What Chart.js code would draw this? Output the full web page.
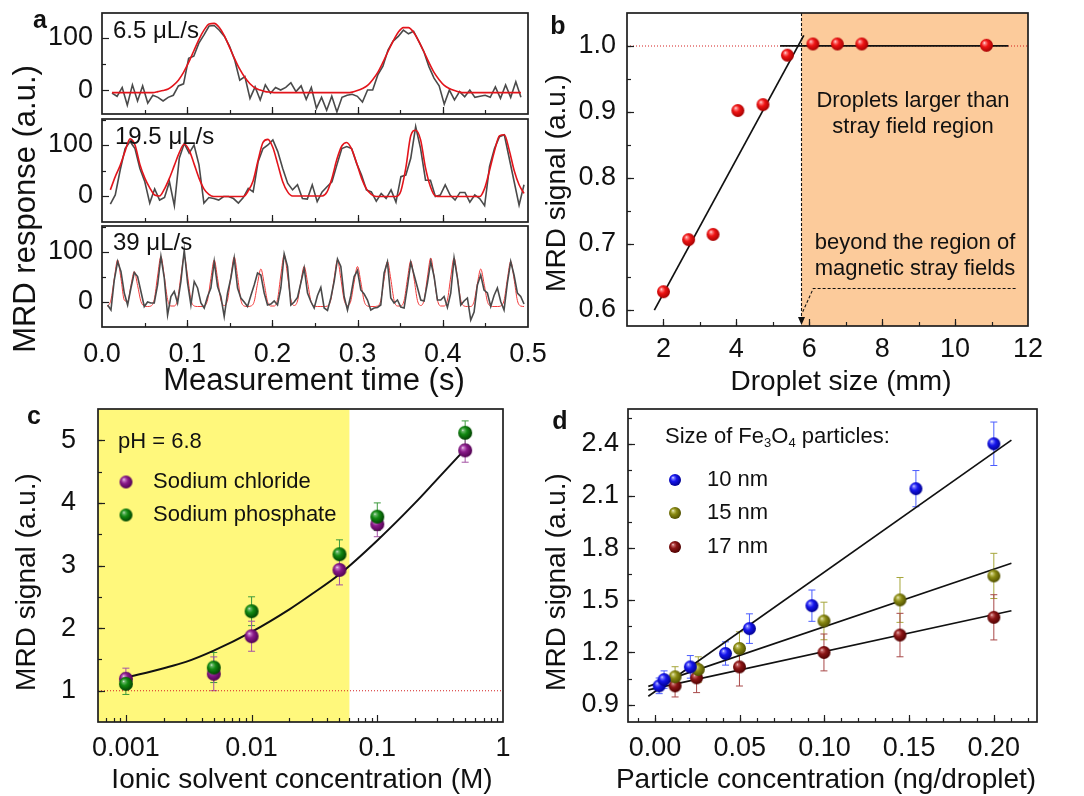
<!DOCTYPE html>
<html>
<head>
<meta charset="utf-8">
<title>MRD signal figure</title>
<script src="https://cdn.jsdelivr.net/npm/chart.js@4.4.1/dist/chart.umd.min.js"></script>
<style>
  html, body { margin: 0; padding: 0; background: #fff; }
  #page { position: relative; width: 1084px; height: 796px; overflow: hidden; }
  #page canvas { position: absolute; }
  #overlay { left: 0; top: 0; z-index: 5; pointer-events: none; }
</style>
</head>
<body>
<div id="page"><canvas id="overlay" width="1084" height="796"></canvas></div>
<script>
const FONT = "'Liberation Sans', Arial, Helvetica, sans-serif";
Chart.defaults.font.family = FONT;
Chart.defaults.color = '#111';

// ---------- panel a: MRD response traces (sampled at a fixed interval) ----------
const timeTicks = [0, 0.1, 0.2, 0.3, 0.4, 0.5];
const responseTicks = [0, 100];

// 6.5 uL/s
const slowT0 = 0.0117, slowDt = 0.006;
const slowRaw = [-6, -12, 5, -29, 10, -21, 8, -25, -10, -14,
  -21, -14, -10, 8, 12, 61, 65, 90, 106, 123,
  124, 115, 103, 84, 58, 19, 26, -16, 6, -19,
  10, -6, 5, 0, 5, 14, -3, 8, -18, 5,
  -35, -14, -39, -12, -42, -14, -10, -8, -12, -23,
  0, 0, 29, 46, 77, 94, 103, 115, 108, 113,
  94, 74, 45, 23, 8, -27, 0, -19, -3, -13,
  0, -14, -12, -10, -14, 6, -16, 10, -14, 16,
  -14];
const slowFit = [-5, -5, -5, -5, -5, -5, -5, -5, -5, -3,
  -1, 2, 9, 19, 34, 53, 75, 97, 115, 127,
  128, 120, 104, 82, 60, 40, 24, 12, 4, 0,
  -3, -4, -5, -5, -5, -5, -5, -5, -5, -5,
  -5, -5, -5, -5, -5, -5, -5, -4, -1, 3,
  9, 20, 34, 53, 74, 94, 111, 120, 120, 111,
  94, 74, 53, 34, 20, 9, 3, -1, -4, -5,
  -5, -5, -5, -5, -5, -5, -5, -5, -5, -5,
  -5];

// 19.5 uL/s
const midT0 = 0.0098, midDt = 0.00578;
const midRaw = [-16, 2, 51, 93, 107, 93, 54, 28, -14, 14,
  -8, -3, 28, -19, 74, 103, 84, 100, 61, -14,
  -3, -5, -8, -1, -1, -5, -14, -3, 15, 8,
  67, 93, 100, 110, 87, 54, 25, 12, 22, -5,
  -6, 22, -11, 8, 18, 28, 61, 93, 97, 93,
  64, 41, 12, 8, -10, 5, -5, 12, -12, 38,
  41, 74, 136, 93, 31, 31, -1, 2, 22, 2,
  -8, 7, 7, -12, 2, -5, -19, 58, 93, 116,
  120, 74, 28, -18, 22];
const midFit = [12, 38, 60, 88, 112, 100, 62, 35, 16, 2,
  0, 14, 35, 60, 85, 102, 90, 63, 35, 14,
  3, -1, -1, -1, -1, -1, -1, -1, 10, 30,
  70, 105, 111, 95, 62, 28, 8, 0, 0, 0,
  0, 0, 0, 0, 8, 35, 72, 98, 105, 92,
  65, 35, 14, 3, -1, -1, -1, -1, -1, 10,
  55, 118, 129, 110, 55, 18, 0, -1, -1, -1,
  -1, -1, -1, -1, -1, -1, 15, 50, 88, 118,
  120, 90, 50, 22, 5];

// 39 uL/s
const fastT0 = 0.0066, fastDt = 0.00391;
const fastRaw = [-7, -17, 43, 80, 60, 17, -7, 27, 58, 50,
  20, -10, -1, -3, -3, 33, 90, 47, -27, 10,
  20, -3, 40, 103, 37, -7, 40, 27, -3, -13,
  10, 27, 80, 30, 10, -30, 17, 47, 87, 27,
  7, -1, -10, 12, 33, 57, 53, 17, -7, -5,
  1, -7, 27, 95, 70, -7, -1, 8, 37, 67,
  17, 0, -13, 12, 28, -13, -18, 7, 40, 85,
  70, 10, -17, 12, 50, 62, 23, 15, 3, -17,
  -13, -12, -7, 57, 79, 7, -3, 3, -11, -13,
  30, 78, 53, 28, 3, 1, 37, 80, 50, 3,
  3, 10, -12, 17, 87, 47, -7, 1, 7, -37,
  -21, 33, 53, 23, 17, -10, 12, 27, 0, -17,
  37, 80, 53, 17, 10, -5];
const fastFit = [-10, 3, 46, 83, 46, 3, 0, 32, 60, 32,
  0, -9, -10, -9, 4, 51, 90, 51, 4, -9,
  -9, 4, 51, 90, 51, 4, -9, -10, -10, -9,
  3, 46, 83, 46, 3, -8, 3, 50, 89, 50,
  3, -9, -10, -9, 0, 36, 65, 36, 0, -9,
  -9, 4, 53, 93, 53, 4, -8, 1, 39, 70,
  39, 1, -9, -10, -10, -10, -9, 3, 46, 83,
  46, 3, -8, 1, 39, 70, 39, 1, -9, -10,
  -10, -9, 2, 45, 80, 45, 2, -9, -9, 2,
  45, 81, 45, 2, -8, 3, 49, 87, 49, 3,
  -9, -9, 3, 49, 87, 49, 3, -9, -10, -10,
  0, 36, 65, 36, 0, -9, -10, -10, -9, 2,
  45, 80, 45, 2, -9, -10];

// ---------- panel b: signal vs droplet size ----------
const sizeTicks = [2, 4, 6, 8, 10, 12];
const signalTicksB = [0.6, 0.7, 0.8, 0.9, 1.0];
const dropSize = [2.0, 2.69, 3.36, 4.04, 4.73, 5.40, 6.10, 6.77, 7.44, 10.86];
const dropSignal = [0.627, 0.706, 0.714, 0.902, 0.911, 0.986, 1.003, 1.003, 1.003, 1.001];
const riseSize = [1.75, 5.85];
const riseSignal = [0.599, 1.016];
const plateauSize = [5.2, 11.46];
const plateauSignal = [1.0, 1.0];
const refSizeB = [1, 12];
const refSignalB = [1.0, 1.0];
const strayEdge = 5.78;

// ---------- panel c: ionic solvent concentration ----------
const concTicks = [0.001, 0.01, 0.1, 1];
const signalTicksC = [1, 2, 3, 4, 5];
const ionConc = [0.001, 0.005, 0.01, 0.05, 0.1, 0.5];
const chloride = [1.19, 1.27, 1.87, 2.93, 3.66, 4.84];
const chlorideErr = [0.17, 0.27, 0.24, 0.24, 0.2, 0.19];
const phosphate = [1.11, 1.37, 2.27, 3.18, 3.78, 5.12];
const phosphateErr = [0.17, 0.24, 0.23, 0.23, 0.22, 0.19];
const ionFitConc = [0.001, 0.002, 0.003, 0.005, 0.01, 0.02, 0.03, 0.05, 0.1, 0.2, 0.3, 0.5];
const ionFitSignal = [1.21, 1.36, 1.46, 1.64, 1.94, 2.30, 2.54, 2.86, 3.40, 4.00, 4.38, 4.86];
const refConcC = [0.0006, 1];
const refSignalC = [1, 1];
const ionicLimit = 0.06;

// ---------- panel d: particle concentration ----------
const partTicks = [0, 0.05, 0.1, 0.15, 0.2];
const signalTicksD = [0.9, 1.2, 1.5, 1.8, 2.1, 2.4];
const nm10Conc = [0.0024, 0.0053, 0.0208, 0.0416, 0.0557, 0.0926, 0.154, 0.2];
const nm10 = [1.008, 1.044, 1.117, 1.194, 1.337, 1.469, 2.142, 2.4];
const nm10Err = [0.045, 0.05, 0.065, 0.067, 0.085, 0.09, 0.104, 0.125];
const nm15Conc = [0.0118, 0.0255, 0.0498, 0.0997, 0.1446, 0.2];
const nm15 = [1.06, 1.102, 1.223, 1.381, 1.502, 1.64];
const nm15Err = [0.058, 0.073, 0.096, 0.108, 0.129, 0.13];
const nm17Conc = [0.0118, 0.0245, 0.0498, 0.0997, 0.1446, 0.2];
const nm17 = [1.008, 1.054, 1.117, 1.2, 1.3, 1.402];
const nm17Err = [0.064, 0.085, 0.11, 0.106, 0.125, 0.13];
const lineConc = [-0.004, 0.2104];
const nm10Line = [0.948, 2.421];
const nm15Line = [1.005, 1.713];
const nm17Line = [0.985, 1.44];

// ---------- helpers ----------
const GRAY = '#4a4a4a', RED = '#e3141b';

function sphere(light, base, dark, r) {
  const c = document.createElement('canvas');
  const s = Math.ceil(r * 2) + 2;
  c.width = c.height = s;
  const g = c.getContext('2d');
  const m = s / 2;
  const grad = g.createRadialGradient(m - r * 0.35, m - r * 0.4, 0, m - r * 0.1, m - r * 0.1, r * 1.15);
  grad.addColorStop(0, '#ffffff');
  grad.addColorStop(0.14, light);
  grad.addColorStop(0.45, base);
  grad.addColorStop(1, dark);
  g.fillStyle = grad;
  g.beginPath();
  g.arc(m, m, r, 0, Math.PI * 2);
  g.fill();
  return c;
}

const redBall = sphere('#ff8a8a', '#f01414', '#a00000', 6.5);
const purpleBall = sphere('#c77ac7', '#8a1a8a', '#4e004e', 7);
const greenBall = sphere('#6cb86c', '#128a12', '#003f00', 7);
const blueBall = sphere('#8080ff', '#1616ee', '#00008c', 6.5);
const oliveBall = sphere('#c8c870', '#8a8a12', '#4c4c00', 6.5);
const maroonBall = sphere('#c86a6a', '#8c1616', '#4c0000', 6.5);

const pairs = (xs, ys) => xs.map((x, i) => ({x, y: ys[i]}));
const series = (t0, dt, vals) => vals.map((v, i) => ({x: t0 + i * dt, y: v}));

function steps(a, b, s) {
  const out = [];
  for (let v = a; v <= b + 1e-9; v += s) out.push(+v.toFixed(6));
  return out;
}
function logMinor(k0, k1) {
  const out = [];
  for (let k = k0; k <= k1; k++) for (let m = 2; m <= 9; m++) out.push(m * Math.pow(10, k));
  return out;
}

function line(points, color, width, smooth, dash) {
  return {data: points, showLine: true, borderColor: color, borderWidth: width, pointRadius: 0,
    borderDash: dash || [], tension: smooth ? 0.4 : 0,
    cubicInterpolationMode: smooth ? 'monotone' : 'default', fill: false};
}
function dots(xs, ys, img, errs, errColor) {
  return {data: pairs(xs, ys), showLine: false, pointStyle: img, pointRadius: 6,
    errors: errs, errorColor: errColor};
}

function axis(min, max, ticks, fmt, pad, show, type) {
  return {
    type: type || 'linear', min, max,
    grid: {display: false, drawTicks: false},
    border: {display: false},
    afterBuildTicks: s => { s.ticks = ticks.map(v => ({value: v})); },
    ticks: {display: show !== false, padding: pad, autoSkip: false, maxRotation: 0, minRotation: 0,
      color: '#111', font: {size: 27, lineHeight: 1}, callback: v => fmt(v)}
  };
}

// box frame with inward major / minor tick marks
function frame(xMajor, xMinor, yMajor, yMinor) {
  return {
    id: 'frame',
    afterDraw(chart) {
      const {ctx, chartArea: a, scales: {x, y}} = chart;
      ctx.save();
      ctx.strokeStyle = '#1e1e1e';
      ctx.lineWidth = 1.2;
      const xt = (list, len) => list.forEach(v => {
        const p = Math.round(x.getPixelForValue(v)) + 0.5;
        if (p <= a.left + 1 || p >= a.right - 1) return;
        ctx.beginPath(); ctx.moveTo(p, a.bottom); ctx.lineTo(p, a.bottom - len); ctx.stroke();
      });
      const yt = (list, len) => list.forEach(v => {
        const p = Math.round(y.getPixelForValue(v)) + 0.5;
        if (p <= a.top + 1 || p >= a.bottom - 1) return;
        ctx.beginPath(); ctx.moveTo(a.left, p); ctx.lineTo(a.left + len, p); ctx.stroke();
      });
      xt(xMinor, 4); xt(xMajor, 7);
      yt(yMinor, 4); yt(yMajor, 7);
      ctx.lineWidth = 1.7;
      ctx.strokeRect(a.left, a.top, a.right - a.left, a.bottom - a.top);
      ctx.restore();
    }
  };
}

const errorBars = {
  id: 'errorBars',
  beforeDatasetsDraw(chart) {
    const {ctx, scales: {x, y}} = chart;
    ctx.save();
    ctx.lineWidth = 1;
    chart.data.datasets.forEach(ds => {
      if (!ds.errors) return;
      ctx.strokeStyle = ds.errorColor;
      ds.data.forEach((p, j) => {
        const px = x.getPixelForValue(p.x);
        const hi = y.getPixelForValue(p.y + ds.errors[j]);
        const lo = y.getPixelForValue(p.y - ds.errors[j]);
        ctx.beginPath();
        ctx.moveTo(px, hi); ctx.lineTo(px, lo);
        ctx.moveTo(px - 3.5, hi); ctx.lineTo(px + 3.5, hi);
        ctx.moveTo(px - 3.5, lo); ctx.lineTo(px + 3.5, lo);
        ctx.stroke();
      });
    });
    ctx.restore();
  }
};

function band(from, to, color) {
  return {
    id: 'band',
    beforeDatasetsDraw(chart) {
      const {ctx, chartArea: a, scales: {x}} = chart;
      const l = Math.max(a.left, x.getPixelForValue(from));
      const r = Math.min(a.right, x.getPixelForValue(to));
      ctx.save();
      ctx.fillStyle = color;
      ctx.fillRect(l, a.top, r - l, a.bottom - a.top);
      ctx.restore();
    }
  };
}

// dashed stray-field boundary with arrow and leader line
const strayMarker = {
  id: 'strayMarker',
  beforeDatasetsDraw(chart) {
    const {ctx, chartArea: a, scales: {x, y}} = chart;
    const px = Math.round(x.getPixelForValue(strayEdge)) + 0.5;
    ctx.save();
    ctx.strokeStyle = '#111';
    ctx.lineWidth = 1.1;
    ctx.setLineDash([3, 2]);
    ctx.beginPath(); ctx.moveTo(px, a.top); ctx.lineTo(px, a.bottom - 8); ctx.stroke();
    ctx.beginPath();
    ctx.moveTo(x.getPixelForValue(11.66), y.getPixelForValue(0.632));
    ctx.lineTo(x.getPixelForValue(6.11), y.getPixelForValue(0.632));
    ctx.lineTo(x.getPixelForValue(5.8), y.getPixelForValue(0.594));
    ctx.stroke();
    ctx.setLineDash([]);
    ctx.fillStyle = '#111';
    ctx.beginPath();
    ctx.moveTo(px - 3.5, a.bottom - 9); ctx.lineTo(px + 3.5, a.bottom - 9); ctx.lineTo(px, a.bottom - 1);
    ctx.closePath(); ctx.fill();
    ctx.restore();
  }
};

function plot(area, geo, cfg) {
  const pT = 8;
  const cv = document.createElement('canvas');
  cv.width = geo.yW + area.r - area.l + geo.pR;
  cv.height = pT + area.b - area.t + geo.xH;
  cv.style.left = (area.l - geo.yW) + 'px';
  cv.style.top = (area.t - pT) + 'px';
  const page = document.getElementById('page');
  page.insertBefore(cv, document.getElementById('overlay'));
  const o = cfg.options;
  o.layout = {padding: {top: pT, right: geo.pR, left: 0, bottom: 0}};
  o.scales.x.afterFit = s => { s.height = geo.xH; s.paddingLeft = 0; s.paddingRight = 0; };
  o.scales.y.afterFit = s => { s.width = geo.yW; s.paddingTop = 0; s.paddingBottom = 0; };
  Object.assign(o, {responsive: false, animation: false, devicePixelRatio: 1, events: []});
  o.plugins = {legend: {display: false}, tooltip: {enabled: false}};
  return new Chart(cv, cfg);
}

const fmt1 = v => v.toFixed(1);
const fmt2 = v => v.toFixed(2);
const plain = v => String(v);
const timeMinor = steps(0, 0.5, 0.05);
const respMinor = [-50, 50, 150];

// ---------- panel a ----------
plot({l: 102, t: 13, r: 528, b: 114}, {yW: 91, xH: 2, pR: 30}, {
  type: 'scatter',
  data: {datasets: [
    line(series(slowT0, slowDt, slowFit), RED, 1.6, true),
    line(series(slowT0, slowDt, slowRaw), GRAY, 1.6, false)
  ]},
  options: {scales: {x: axis(0, 0.5, timeTicks, fmt1, 14, false), y: axis(-46, 148, responseTicks, plain, 9)}},
  plugins: [frame(timeTicks, timeMinor, responseTicks, respMinor)]
});
plot({l: 102, t: 119, r: 528, b: 222}, {yW: 91, xH: 2, pR: 30}, {
  type: 'scatter',
  data: {datasets: [
    line(series(midT0, midDt, midFit), RED, 1.6, true),
    line(series(midT0, midDt, midRaw), GRAY, 1.6, false)
  ]},
  options: {scales: {x: axis(0, 0.5, timeTicks, fmt1, 14, false), y: axis(-51, 151, responseTicks, plain, 9)}},
  plugins: [frame(timeTicks, timeMinor, responseTicks, respMinor)]
});
plot({l: 102, t: 226, r: 528, b: 327}, {yW: 91, xH: 44, pR: 30}, {
  type: 'scatter',
  data: {datasets: [
    line(series(fastT0, fastDt, fastRaw), GRAY, 1.6, false),
    line(series(fastT0, fastDt, fastFit), '#f23a3a', 1, true)
  ]},
  options: {scales: {x: axis(0, 0.5, timeTicks, fmt1, 14), y: axis(-51, 151, responseTicks, plain, 9)}},
  plugins: [frame(timeTicks, timeMinor, responseTicks, respMinor)]
});

// ---------- panel b ----------
plot({l: 627, t: 13, r: 1028, b: 326}, {yW: 60, xH: 44, pR: 22}, {
  type: 'scatter',
  data: {datasets: [
    dots(dropSize, dropSignal, redBall),
    line(pairs(riseSize, riseSignal), '#111', 1.7, false),
    line(pairs(plateauSize, plateauSignal), '#111', 1.7, false),
    line(pairs(refSizeB, refSignalB), '#d42020', 1.1, false, [1, 2])
  ]},
  options: {scales: {x: axis(1, 12, sizeTicks, plain, 10), y: axis(0.575, 1.05, signalTicksB, fmt1, 11)}},
  plugins: [band(strayEdge, 12, '#fccb9b'), strayMarker, frame(sizeTicks, steps(1, 12, 1), signalTicksB, steps(0.6, 1.05, 0.05))]
});

// ---------- panel c ----------
plot({l: 98, t: 409, r: 503, b: 722}, {yW: 60, xH: 44, pR: 15}, {
  type: 'scatter',
  data: {datasets: [
    dots(ionConc, phosphate, greenBall, phosphateErr, '#3c9a3c'),
    dots(ionConc, chloride, purpleBall, chlorideErr, '#a452a4'),
    line(pairs(ionFitConc, ionFitSignal), '#111', 2, true),
    line(pairs(refConcC, refSignalC), '#d42020', 1.1, false, [1, 2])
  ]},
  options: {scales: {x: axis(0.0006, 1, concTicks, plain, 13, true, 'logarithmic'), y: axis(0.5, 5.5, signalTicksC, plain, 22)}},
  plugins: [band(0.0006, ionicLimit, '#fff87c'), errorBars, frame(concTicks, logMinor(-4, -1), signalTicksC, steps(0.5, 5.5, 0.5))]
});

// ---------- panel d ----------
plot({l: 628, t: 409, r: 1037, b: 722}, {yW: 60, xH: 44, pR: 15}, {
  type: 'scatter',
  data: {datasets: [
    dots(nm10Conc, nm10, blueBall, nm10Err, '#4a5cff'),
    dots(nm15Conc, nm15, oliveBall, nm15Err, '#a6a63a'),
    dots(nm17Conc, nm17, maroonBall, nm17Err, '#a84848'),
    line(pairs(lineConc, nm10Line), '#111', 1.7, false),
    line(pairs(lineConc, nm15Line), '#111', 1.7, false),
    line(pairs(lineConc, nm17Line), '#111', 1.7, false)
  ]},
  options: {scales: {x: axis(-0.016, 0.2255, partTicks, fmt2, 13), y: axis(0.8, 2.6, signalTicksD, fmt1, 9)}},
  plugins: [errorBars, frame(partTicks, steps(-0.01, 0.22, 0.01), signalTicksD, steps(0.75, 2.55, 0.15))]
});

// ---------- overlay text: panel letters, axis titles, legends, notes ----------
const g = document.getElementById('overlay').getContext('2d');
g.fillStyle = '#111';
function text(s, x, y, size, opt) {
  opt = opt || {};
  g.save();
  g.font = (opt.bold ? 'bold ' : '') + size + 'px ' + FONT;
  g.textAlign = opt.align || 'left';
  g.textBaseline = 'middle';
  g.translate(x, y);
  if (opt.rotate) g.rotate(-Math.PI / 2);
  g.fillText(s, 0, 0);
  g.restore();
}
function ball(img, x, y) { g.drawImage(img, x - img.width / 2, y - img.height / 2); }

text('a', 40, 21, 25, {bold: true, align: 'center'});
text('b', 558, 27, 25, {bold: true, align: 'center'});
text('c', 34, 417, 25, {bold: true, align: 'center'});
text('d', 560, 422, 25, {bold: true, align: 'center'});

text('MRD response (a.u.)', 26, 209, 31, {rotate: true, align: 'center'});
text('Measurement time (s)', 314, 381, 31, {align: 'center'});
text('MRD signal (a.u.)', 557, 183, 28, {rotate: true, align: 'center'});
text('Droplet size (mm)', 841, 382, 28, {align: 'center'});
text('MRD signal (a.u.)', 27, 582, 28, {rotate: true, align: 'center'});
text('Ionic solvent concentration (M)', 302, 780, 28, {align: 'center'});
text('MRD signal (a.u.)', 557, 582, 28, {rotate: true, align: 'center'});
text('Particle concentration (ng/droplet)', 826, 780, 28, {align: 'center'});

text('6.5 \u03bcL/s', 113, 31, 24);
text('19.5 \u03bcL/s', 115, 137, 24);
text('39 \u03bcL/s', 113, 243, 24);

text('Droplets larger than', 913, 101, 22, {align: 'center'});
text('stray field region', 913, 127, 22, {align: 'center'});
text('beyond the region of', 915, 243, 22, {align: 'center'});
text('magnetic stray fields', 915, 269, 22, {align: 'center'});

text('pH = 6.8', 118, 442, 22);
ball(sphere('#c77ac7', '#8a1a8a', '#4e004e', 6.5), 126, 482);
text('Sodium chloride', 153, 482, 22);
ball(sphere('#6cb86c', '#128a12', '#003f00', 6.5), 126, 515);
text('Sodium phosphate', 153, 515, 22);

// "Size of Fe3O4 particles:" with subscripts
(function () {
  let x = 665;
  const y = 437;
  const part = (s, size, dy) => {
    g.font = size + 'px ' + FONT;
    g.textAlign = 'left';
    g.textBaseline = 'middle';
    g.fillText(s, x, y + dy);
    x += g.measureText(s).width;
  };
  part('Size of Fe', 22, 0);
  part('3', 13, 6);
  part('O', 22, 0);
  part('4', 13, 6);
  part(' particles:', 22, 0);
})();
ball(sphere('#8080ff', '#1616ee', '#00008c', 6), 675, 480);
text('10 nm', 707, 480, 22);
ball(sphere('#c8c870', '#8a8a12', '#4c4c00', 6), 675, 513);
text('15 nm', 707, 513, 22);
ball(sphere('#c86a6a', '#8c1616', '#4c0000', 6), 675, 547);
text('17 nm', 707, 547, 22);
</script>
</body>
</html>
